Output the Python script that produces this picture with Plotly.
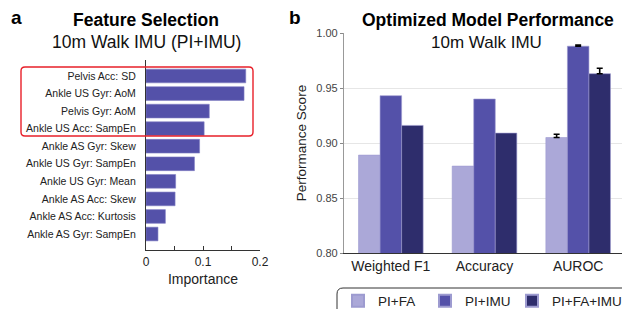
import plotly.graph_objects as go

# ---- data ----
features = ["Pelvis Acc: SD", "Ankle US Gyr: AoM", "Pelvis Gyr: AoM", "Ankle US Acc: SampEn",
            "Ankle AS Gyr: Skew", "Ankle US Gyr: SampEn", "Ankle US Gyr: Mean",
            "Ankle AS Acc: Skew", "Ankle AS Acc: Kurtosis", "Ankle AS Gyr: SampEn"]
importance = [0.175, 0.172, 0.111, 0.102, 0.094, 0.085, 0.052, 0.051, 0.034, 0.021]

metrics = ["Weighted F1", "Accuracy", "AUROC"]
models = ["PI+FA", "PI+IMU", "PI+FA+IMU"]
pi_fa = [0.889, 0.879, 0.905]
pi_imu = [0.943, 0.940, 0.988]
pi_fa_imu = [0.916, 0.909, 0.963]
# error bars (only AUROC has them; None = no error bar)
err_pi_fa = [None, None, 0.003]
err_pi_imu = [None, None, 0.001]
err_pi_fa_imu = [None, None, 0.005]

imp_ticks = [0, 0.05, 0.1, 0.15, 0.2]
imp_ticklabels = ["0", "", "0.1", "", "0.2"]
perf_ticks = [0.80, 0.85, 0.90, 0.95, 1.00]

colors = ["#ABA8D8", "#5451A9", "#2E2D6C"]
legend_ids = ["legend", "legend", "legend2"]
FONT = "Liberation Sans, Arial, sans-serif"
W, H = 630, 309
OFF = 8  # page body margin

fig = go.Figure()

fig.add_trace(go.Bar(
    x=importance, y=features, orientation="h", xaxis="x", yaxis="y",
    marker=dict(color="#5451A9", line=dict(color="#8280C4", width=0.6)),
    width=0.78, showlegend=False))

series = [pi_fa, pi_imu, pi_fa_imu]
errs = [err_pi_fa, err_pi_imu, err_pi_fa_imu]
for name, vals, e, c, lg in zip(models, series, errs, colors, legend_ids):
    no_err = [i for i, v in enumerate(e) if v is None]
    with_err = [i for i, v in enumerate(e) if v is not None]
    common = dict(xaxis="x2", yaxis="y2", offsetgroup=name, legendgroup=name, name=name,
                  legend=lg, marker=dict(color=c, line=dict(color="#9D9BD0", width=0.6)))
    fig.add_trace(go.Bar(x=[metrics[i] for i in no_err], y=[vals[i] for i in no_err],
                         showlegend=True, **common))
    fig.add_trace(go.Bar(x=[metrics[i] for i in with_err], y=[vals[i] for i in with_err],
                         showlegend=False,
                         error_y=dict(type="data", array=[e[i] for i in with_err],
                                      arrayminus=[0] * len(with_err), symmetric=False,
                                      color="black", thickness=1.6, width=3, visible=True),
                         **common))

def px_x(p):
    return (p - OFF) / W

def px_y(p):
    return (H - (p - OFF)) / H

def rounded(x0, y0, x1, y1, r):
    rx, ry = r / W, r / H
    X0, X1 = px_x(x0), px_x(x1)
    Yt, Yb = px_y(y0), px_y(y1)
    return (f"M {X0+rx},{Yt} L {X1-rx},{Yt} Q {X1},{Yt} {X1},{Yt-ry} "
            f"L {X1},{Yb+ry} Q {X1},{Yb} {X1-rx},{Yb} L {X0+rx},{Yb} "
            f"Q {X0},{Yb} {X0},{Yb+ry} L {X0},{Yt-ry} Q {X0},{Yt} {X0+rx},{Yt} Z")

shapes = [
    dict(type="path", xref="paper", yref="paper", path=rounded(21, 67, 253, 136, 4),
         line=dict(color="#E8202A", width=1.4), fillcolor="rgba(0,0,0,0)", layer="above"),
    dict(type="path", xref="paper", yref="paper", path=rounded(337, 288, 629, 318, 6),
         line=dict(color="#333333", width=1), fillcolor="rgba(0,0,0,0)"),
]

annotations = [
    dict(text="<b>a</b>", x=px_x(16), y=px_y(18), font=dict(size=19, color="black")),
    dict(text="<b>Feature Selection</b>", x=px_x(146), y=px_y(20), font=dict(size=17.5, color="black")),
    dict(text="10m Walk IMU (PI+IMU)", x=px_x(146), y=px_y(42), font=dict(size=17.5, color="#111")),
    dict(text="<b>b</b>", x=px_x(295), y=px_y(18), font=dict(size=19, color="black")),
    dict(text="<b>Optimized Model Performance</b>", x=px_x(488), y=px_y(20), font=dict(size=17.5, color="black")),
    dict(text="10m Walk IMU", x=px_x(486), y=px_y(42), font=dict(size=17, color="#111")),
]
for a in annotations:
    a.update(xref="paper", yref="paper", showarrow=False, xanchor="center", yanchor="middle")

legend_style = dict(orientation="h", y=px_y(301), yanchor="middle", xanchor="left",
                    font=dict(size=13.5, color="#222"), bgcolor="rgba(0,0,0,0)",
                    itemsizing="constant", tracegroupgap=0, traceorder="normal")

fig.update_layout(
    width=W, height=H, margin=dict(l=0, r=0, t=0, b=0, autoexpand=False),
    paper_bgcolor="white", plot_bgcolor="white",
    font=dict(family=FONT, color="#222"),
    barmode="group", bargap=0.31, bargroupgap=0,
    xaxis=dict(domain=[px_x(146), px_x(260)], anchor="y", range=[0, 0.2], automargin=False,
               tickvals=imp_ticks, ticktext=imp_ticklabels, ticks="inside", ticklen=4,
               tickcolor="#333", showline=True, linecolor="#333", linewidth=1.2,
               showgrid=False, zeroline=False, tickfont=dict(size=12, color="#222"),
               title=dict(text="Importance", font=dict(size=14, color="#222"), standoff=6)),
    yaxis=dict(domain=[px_y(250), px_y(60)], anchor="x", type="category", automargin=False,
               categoryorder="array", categoryarray=features, range=[9.91, -0.91],
               showline=True, linecolor="#333", linewidth=1.2, ticks="outside",
               ticklen=7, tickcolor="rgba(0,0,0,0)", showgrid=False,
               tickfont=dict(size=10.5, color="#222")),
    xaxis2=dict(domain=[px_x(344), px_x(625)], anchor="y2", showline=True, automargin=False,
                linecolor="#333", linewidth=1.2, ticks="", showgrid=False, tickangle=0,
                categoryorder="array", categoryarray=metrics,
                tickfont=dict(size=14, color="#222")),
    yaxis2=dict(domain=[px_y(253), px_y(33)], anchor="x2", range=[0.8, 1.0], automargin=False,
                tickvals=perf_ticks, tickformat=".2f", ticks="outside", ticklen=3,
                tickcolor="#888", showline=True, linecolor="#999", linewidth=1.2,
                showgrid=True, gridcolor="#E6E6E6", gridwidth=1, zeroline=False,
                tickfont=dict(size=11, color="#444"),
                title=dict(text="Performance Score", font=dict(size=13.5, color="#222"), standoff=6)),
    legend=dict(x=px_x(338), entrywidth=42, **legend_style),
    legend2=dict(x=px_x(512), **legend_style),
    shapes=shapes, annotations=annotations,
)

fig.write_html("out.html")
